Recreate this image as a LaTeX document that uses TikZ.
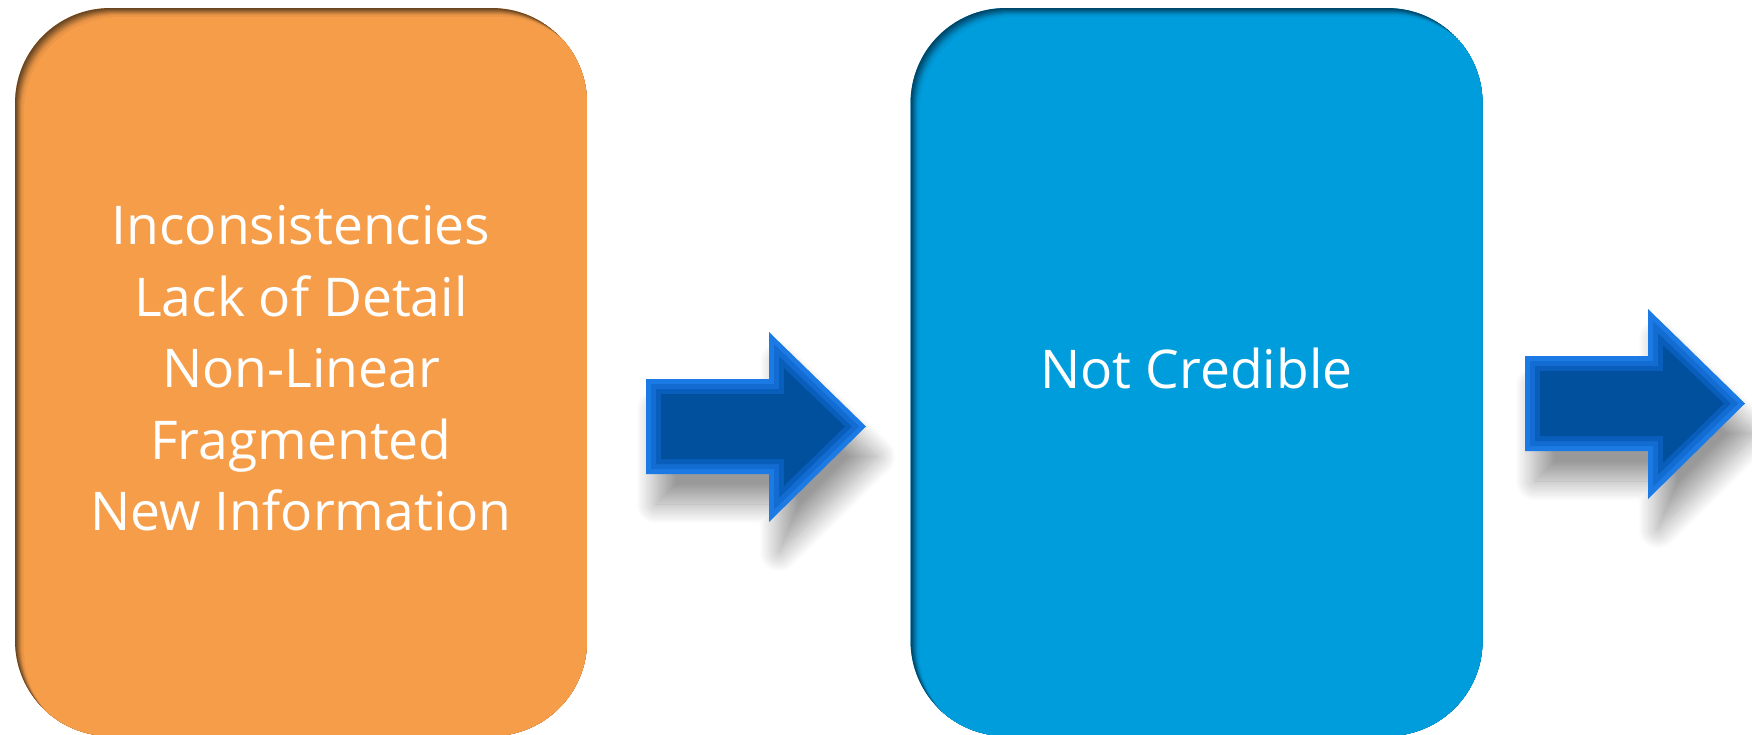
\documentclass[tikz,border=0pt]{standalone}
\usepackage{fontspec}
\setmainfont{Open Sans}
\usetikzlibrary{calc,shadows.blur}

\definecolor{panelorange}{RGB}{246,157,74}
\definecolor{paneldkorange}{RGB}{105,70,35}
\definecolor{panelblue}{RGB}{0,157,220}
\definecolor{paneldkblue}{RGB}{0,70,105}
\definecolor{arrowlight}{RGB}{28,122,228}
\definecolor{arrowmidA}{RGB}{18,108,210}
\definecolor{arrowmidB}{RGB}{8,94,186}
\definecolor{arrowdark}{RGB}{0,80,158}

\tikzset{
    panel/.style 2 args={
        rounded corners=1.9cm, minimum width=11.44cm, minimum height=14.56cm,
        fill=#1, text=white, align=center, text depth=0.16cm,
        font=\fontsize{30.4}{40.7}\selectfont,
        path picture={
            \fill[#2] (path picture bounding box.south west) rectangle (path picture bounding box.north east);
            \foreach \dd/\pp in {1/10,2/25,3/40,4/55,5/70,6/82,7/92,9/100}
                \fill[#1!\pp!#2, rounded corners=1.9cm]
                    ($(path picture bounding box.south west)+(\dd*0.02cm,-\dd*0.02cm)$) rectangle
                    ($(path picture bounding box.north east)+(\dd*0.02cm,-\dd*0.02cm)$);
        }},
    arrowshadow/.style={blur shadow={shadow xshift=0.2cm, shadow yshift=-0.6cm,
        shadow blur radius=0.4cm, shadow blur steps=24, shadow opacity=40}}
}

\begin{document}
\begin{tikzpicture}[x=0.02cm,y=-0.02cm]
\useasboundingbox (0,0) rectangle (1752,734);

\node[panel={panelorange}{paneldkorange}] (issues) at (301,372)
    {Inconsistencies\\Lack of Detail\\Non-Linear\\Fragmented\\New Information};
\node[panel={panelblue}{paneldkblue}] (credible) at (1196.5,372) {Not Credible};

% block arrows, bevel drawn as inset layers
\foreach \ax/\ay in {646/379,1525/356}{
\begin{scope}[shift={(\ax,\ay)}]
\fill[arrowlight, arrowshadow] (0,0) -- (123,0) -- (123,-47) -- (220,47.5) -- (123,143) -- (123,95) -- (0,95) -- cycle;
\foreach \d/\c in {5/arrowmidA,10/arrowmidB,15/arrowdark}
    \fill[\c] (\d,\d) -- ({123+\d},\d) -- ({123+\d},{-47+2.414*\d}) -- ({220-1.414*\d},47.5)
        -- ({123+\d},{143-2.414*\d}) -- ({123+\d},{95-\d}) -- (\d,{95-\d}) -- cycle;
\end{scope}
}
\end{tikzpicture}
\end{document}
